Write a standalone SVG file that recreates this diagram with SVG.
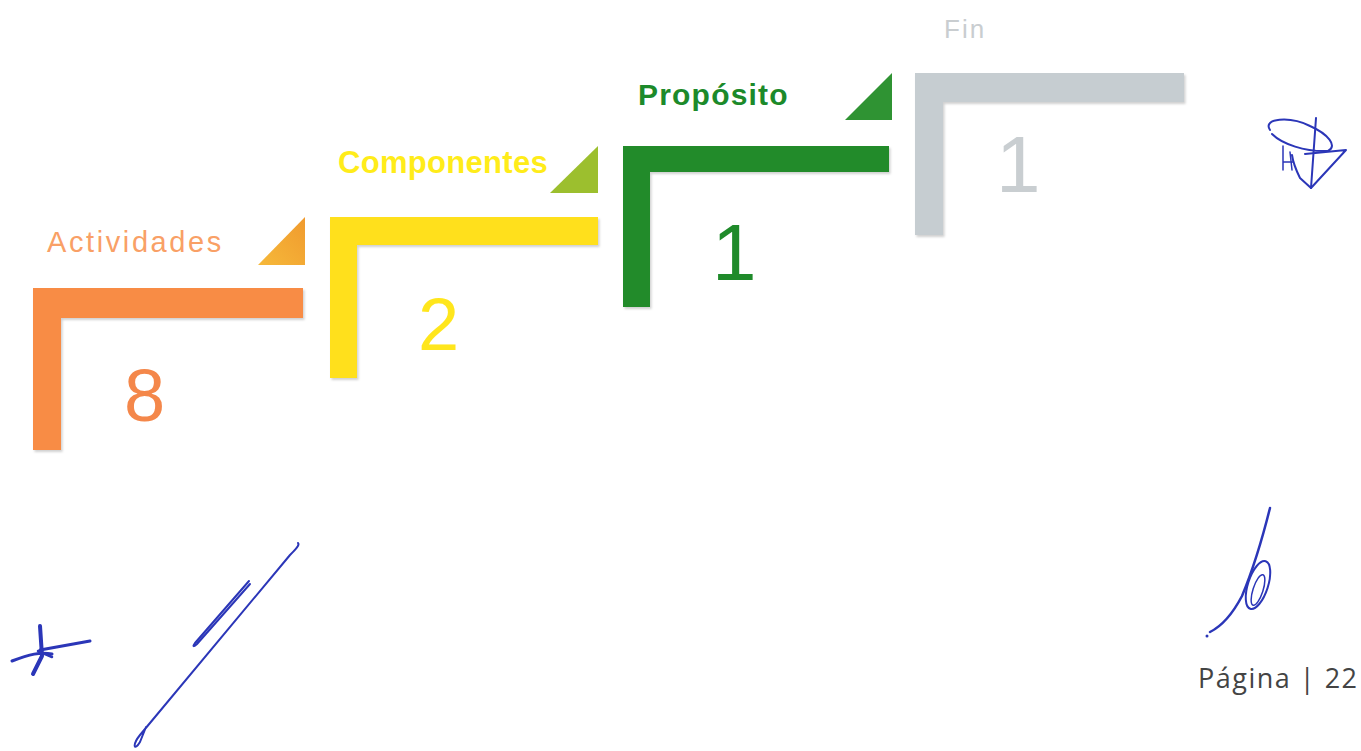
<svg xmlns="http://www.w3.org/2000/svg" width="1361" height="751" viewBox="0 0 1361 751">
<style>
  .num { font-family: "Liberation Sans", Arial, sans-serif; }
  .lbl { font-family: "Liberation Sans", Arial, sans-serif; }
  .sig { fill: none; stroke: #2b36b8; stroke-linecap: round; stroke-linejoin: round; }
</style>
<defs>
  <filter id="sh" x="-5%" y="-5%" width="115%" height="115%">
    <feDropShadow dx="1.5" dy="2" stdDeviation="1.2" flood-color="#000" flood-opacity="0.18"/>
  </filter>
  <linearGradient id="gOrTri" x1="0" y1="1" x2="1" y2="0">
    <stop offset="0" stop-color="#f6b93a"/>
    <stop offset="1" stop-color="#f09a2e"/>
  </linearGradient>
</defs>
<rect width="1361" height="751" fill="#ffffff"/>

<g id="actividades">
  <path d="M33,288 H303 V318 H61 V450 H33 Z" fill="#f88c44" filter="url(#sh)"/>
  <polygon points="258,265 305,217 305,265" fill="url(#gOrTri)"/>
  <text class="lbl" x="47" y="252" font-size="29" fill="#f9a066" letter-spacing="2.6">Actividades</text>
  <text class="num" x="124" y="421" font-size="74" fill="#f4874a">8</text>
</g>

<g id="componentes">
  <path d="M330,217 H598 V245 H357 V378 H330 Z" fill="#ffe01e" filter="url(#sh)"/>
  <polygon points="550,193 598,146 598,193" fill="#9cbf2e"/>
  <text class="lbl" x="338" y="173" font-size="31" font-weight="bold" fill="#ffec1a" letter-spacing="0.3">Componentes</text>
  <text class="num" x="418" y="350" font-size="74" fill="#ffe61c">2</text>
</g>

<g id="proposito">
  <path d="M623,146 H889 V172 H650 V307 H623 Z" fill="#228b2c" filter="url(#sh)"/>
  <polygon points="845,120 892,73 892,120" fill="#2f9333"/>
  <text class="lbl" x="638" y="105" font-size="30" font-weight="bold" fill="#1c8a2a" letter-spacing="1.2">Propósito</text>
  <text class="num" x="712" y="280" font-size="80" fill="#1f8a2a">1</text>
</g>

<g id="fin">
  <path d="M915,73 H1184 V102 H943 V235 H915 Z" fill="#c6cdd1" filter="url(#sh)"/>
  <text class="lbl" x="944" y="38" font-size="26" fill="#c9cdd0" letter-spacing="2">Fin</text>
  <text class="num" x="996" y="192" font-size="80" fill="#c9ced1">1</text>
</g>

<g id="connectors"></g>

<g id="signatures">
  <!-- top right -->
  <path class="sig" stroke-width="2" d="M1270,130 C1262,118 1290,116 1310,126 C1328,134 1338,146 1328,151 C1305,152 1282,144 1272,134"/>
  <path class="sig" stroke-width="2" d="M1316,118 L1311,188 L1300,178 C1296,170 1293,162 1292,155"/>
  <path class="sig" stroke-width="2" d="M1311,188 L1346,150 L1305,154"/>
  <path class="sig" stroke-width="1.5" stroke="#333" d="M1283,146 L1283,170 M1283,162 L1293,162 M1290,152 L1292,170"/>
  <!-- bottom left cross -->
  <path class="sig" stroke-width="4" d="M40,626 L42,656 L33,674"/>
  <path class="sig" stroke-width="3" d="M12,661 C30,654 40,652 52,654 M40,650 L90,641"/>
  <path class="sig" stroke-width="2.5" d="M38,651 L52,657"/>
  <!-- bottom left long strokes -->
  <path class="sig" stroke-width="2" d="M298,543 C300,545 296,549 290,555 L140,735 C132,745 134,752 140,742 L146,727"/>
  <path class="sig" stroke-width="2" d="M249,581 L195,643 C192,647 194,647 197,644 L250,584"/>
  <!-- bottom right -->
  <path class="sig" stroke-width="2.5" d="M1270,508 C1262,540 1252,572 1242,596 C1232,615 1222,626 1210,632"/>
  <ellipse class="sig" stroke-width="2" cx="1258" cy="585" rx="10" ry="25" transform="rotate(18 1258 585)"/>
  <ellipse class="sig" stroke-width="1.5" cx="1258" cy="590" rx="5" ry="16" transform="rotate(18 1258 590)"/>
  <circle cx="1207" cy="636" r="1.5" fill="#2b36b8"/>
</g>

<text x="1198" y="688" font-size="27" fill="#444444" letter-spacing="1.5" style="font-family:'Open Sans','Liberation Sans',sans-serif">Página | 22</text>
</svg>
